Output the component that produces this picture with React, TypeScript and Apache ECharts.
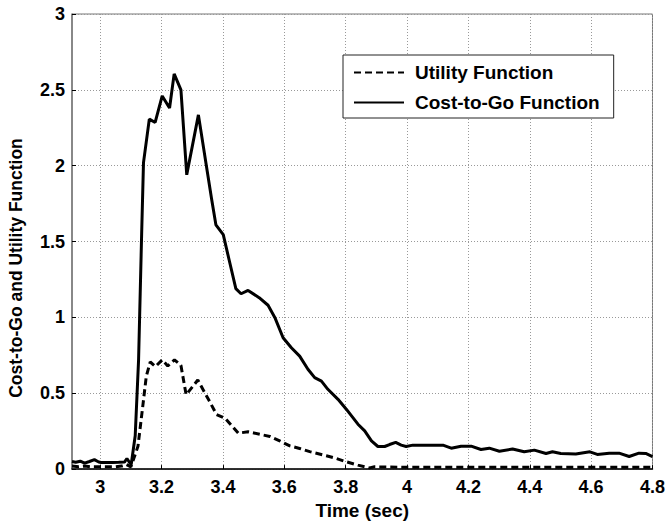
import React, { useEffect, useRef } from "react";
import * as echarts from "echarts";

const FONT = "'Liberation Sans', Arial, Helvetica, sans-serif";

const costX = [2.908, 2.92, 2.935, 2.949, 2.965, 2.981, 2.995, 3.003, 3.02, 3.04, 3.06, 3.079, 3.087, 3.095, 3.101, 3.114, 3.125, 3.135, 3.141, 3.16, 3.179, 3.202, 3.226, 3.241, 3.263, 3.282, 3.32, 3.349, 3.363, 3.377, 3.401, 3.42, 3.442, 3.459, 3.482, 3.518, 3.547, 3.569, 3.596, 3.623, 3.65, 3.677, 3.699, 3.721, 3.742, 3.775, 3.802, 3.84, 3.862, 3.884, 3.905, 3.927, 3.943, 3.963, 3.981, 3.997, 4.019, 4.117, 4.144, 4.176, 4.209, 4.241, 4.268, 4.301, 4.344, 4.382, 4.415, 4.453, 4.474, 4.501, 4.55, 4.596, 4.62, 4.659, 4.691, 4.724, 4.756, 4.778, 4.8];
const costY = [0.05, 0.045, 0.052, 0.039, 0.05, 0.062, 0.047, 0.044, 0.044, 0.044, 0.045, 0.046, 0.07, 0.045, 0.03, 0.22, 0.72, 1.55, 2.02, 2.307, 2.285, 2.46, 2.38, 2.605, 2.5, 1.94, 2.335, 1.96, 1.78, 1.61, 1.546, 1.38, 1.19, 1.156, 1.178, 1.13, 1.08, 1.0, 0.866, 0.8, 0.745, 0.658, 0.603, 0.58, 0.526, 0.46, 0.395, 0.296, 0.252, 0.186, 0.149, 0.149, 0.162, 0.176, 0.158, 0.149, 0.158, 0.158, 0.138, 0.151, 0.151, 0.129, 0.138, 0.118, 0.132, 0.114, 0.125, 0.103, 0.114, 0.103, 0.099, 0.114, 0.097, 0.105, 0.105, 0.083, 0.105, 0.103, 0.083];

const utilX = [2.908, 2.93, 2.95, 2.97, 3.0, 3.05, 3.07, 3.085, 3.1, 3.123, 3.139, 3.15, 3.163, 3.18, 3.202, 3.22, 3.242, 3.263, 3.28, 3.318, 3.358, 3.379, 3.407, 3.45, 3.482, 3.553, 3.585, 3.618, 3.65, 3.683, 3.737, 3.77, 3.802, 3.84, 3.878, 3.894, 4.0, 4.8];
const utilY = [0.02, 0.015, 0.02, 0.015, 0.015, 0.015, 0.02, 0.03, 0.015, 0.15, 0.42, 0.61, 0.706, 0.676, 0.72, 0.68, 0.72, 0.684, 0.49, 0.587, 0.44, 0.36, 0.335, 0.237, 0.246, 0.215, 0.186, 0.153, 0.136, 0.115, 0.088, 0.07, 0.048, 0.026, 0.008, 0.015, 0.012, 0.012];

const xTicks = [3, 3.2, 3.4, 3.6, 3.8, 4, 4.2, 4.4, 4.6, 4.8];
const seriesNames = ["Utility Function", "Cost-to-Go Function"];
const xTitle = "Time (sec)";
const yTitle = "Cost-to-Go and Utility Function";

export default function App() {
  const ref = useRef<HTMLDivElement>(null);
  useEffect(() => {
    if (!ref.current) return;
    const chart = echarts.init(ref.current, null, { renderer: "svg" });
    const utilData = utilX.map((x, i) => [x, utilY[i]]);
    const costData = costX.map((x, i) => [x, costY[i]]);
    chart.setOption({
      animation: false,
      backgroundColor: "#fff",
      grid: { left: 72, right: 14.5, top: 14, bottom: 55, show: true, borderColor: "#777", borderWidth: 1 },
      legend: {
        data: seriesNames,
        orient: "vertical",
        left: 343,
        top: 55,
        padding: [8, 14, 6, 10],
        borderColor: "#222",
        borderWidth: 1,
        backgroundColor: "#fff",
        itemWidth: 50,
        itemHeight: 18,
        itemGap: 11,
        itemStyle: { opacity: 0 },
        textStyle: { fontSize: 19, fontWeight: "bold", color: "#000", fontFamily: FONT, padding: [0, 0, 0, 6] },
      },
      xAxis: {
        type: "value",
        min: 2.908,
        max: 4.8,
        name: xTitle,
        nameLocation: "middle",
        nameGap: 31,
        nameTextStyle: { fontSize: 19, fontWeight: "bold", color: "#000", fontFamily: FONT },
        axisLine: { show: true, lineStyle: { color: "#000", width: 1.5 } },
        axisTick: { show: true, inside: true, length: 4, customValues: xTicks, lineStyle: { color: "#000" } },
        axisLabel: { customValues: xTicks, fontSize: 18, fontWeight: "bold", color: "#000", fontFamily: FONT, margin: 9 },
        splitLine: { show: true, lineStyle: { color: "#999", type: [1, 2], width: 1 } },
      },
      yAxis: {
        type: "value",
        min: 0,
        max: 3,
        interval: 0.5,
        axisLine: { show: true, lineStyle: { color: "#777", width: 1.5 } },
        axisTick: { show: true, inside: true, length: 4, lineStyle: { color: "#000" } },
        axisLabel: { fontSize: 18, fontWeight: "bold", color: "#000", fontFamily: FONT, margin: 7 },
        splitLine: { show: true, lineStyle: { color: "#999", type: [1, 2], width: 1 } },
      },
      graphic: [
        {
          type: "text",
          x: 15.5,
          y: 268,
          rotation: Math.PI / 2,
          style: {
            text: yTitle,
            fontSize: 17.5,
            fontWeight: "bold",
            fontFamily: FONT,
            fill: "#000",
            align: "center",
            verticalAlign: "middle",
          },
        },
      ],
      series: [
        {
          name: seriesNames[0],
          type: "line",
          data: utilData,
          symbol: "none",
          lineStyle: { color: "#000", width: 3, type: [7, 4] },
          itemStyle: { color: "#000" },
          z: 3,
        },
        {
          name: seriesNames[1],
          type: "line",
          data: costData,
          symbol: "none",
          lineStyle: { color: "#000", width: 3, type: "solid" },
          itemStyle: { color: "#000" },
          z: 2,
        },
      ],
    });
    return () => chart.dispose();
  }, []);
  return <div ref={ref} style={{ position: "fixed", left: 0, top: 0, width: 668, height: 525 }} />;
}
